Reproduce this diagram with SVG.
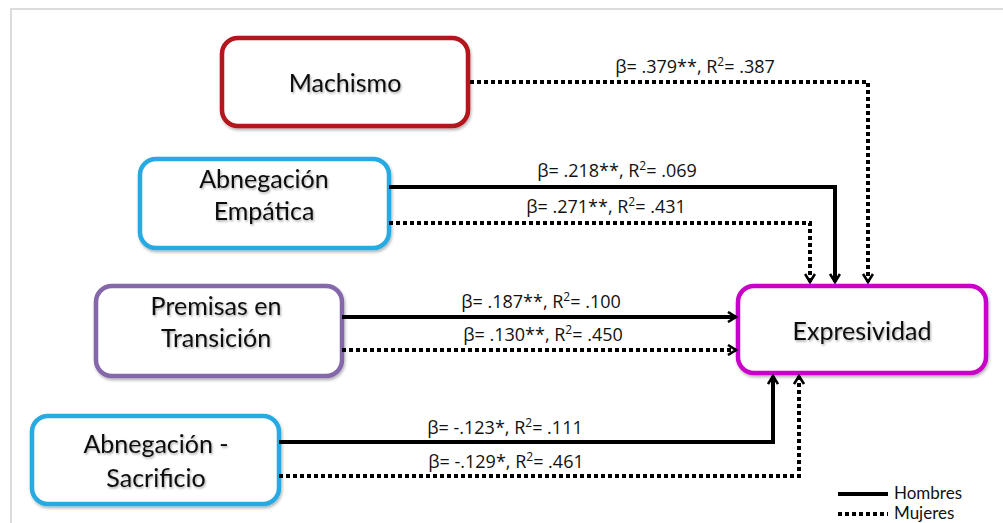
<svg xmlns="http://www.w3.org/2000/svg" width="1003" height="523" viewBox="0 0 1003 523">
<defs>
<style>
.box{fill:#fff;stroke-width:4.5}
.nt{font-family:Lato,"Open Sans",sans-serif;font-size:25px;fill:#111;text-anchor:middle}
.lb{font-family:"Open Sans","Liberation Sans",sans-serif;font-size:18px;fill:#111;text-anchor:middle}
.sol{fill:none;stroke:#000;stroke-width:4}
.dot{fill:none;stroke:#000;stroke-width:4;stroke-dasharray:4 3}
.lg{font-family:Lato,"Open Sans",sans-serif;font-size:17px;fill:#111}
</style>
<filter id="sh" x="-10%" y="-10%" width="120%" height="130%">
<feDropShadow dx="1" dy="2" stdDeviation="1.5" flood-color="#000" flood-opacity="0.3"/>
</filter>
<filter id="tsh" x="-10%" y="-20%" width="120%" height="150%">
<feDropShadow dx="1" dy="1.5" stdDeviation="1" flood-color="#000" flood-opacity="0.35"/>
</filter>
<marker id="ah" viewBox="0 0 12 12" refX="10" refY="6" markerWidth="12" markerHeight="12" markerUnits="userSpaceOnUse" orient="auto">
<path d="M2,1 L10,6 L2,11" fill="none" stroke="#000" stroke-width="2.6"/>
</marker>
</defs>
<rect width="1003" height="523" fill="#fff"/>
<path d="M11,523 V9 H1003" fill="none" stroke="#dcdcdc" stroke-width="2"/>

<g id="machismo">
<rect class="box" x="222" y="38" width="246" height="88" rx="16" stroke="#b3121b" filter="url(#sh)"/>
<text class="nt" x="345" y="92" filter="url(#tsh)">Machismo</text>
</g>
<g id="abnegacion-empatica">
<rect class="box" x="140" y="159" width="249" height="89" rx="16" stroke="#27aae1" filter="url(#sh)"/>
<text class="nt" x="264" y="188" filter="url(#tsh)">Abnegación</text>
<text class="nt" x="264" y="220" filter="url(#tsh)">Empática</text>
</g>
<g id="premisas">
<rect class="box" x="96" y="286" width="246" height="90" rx="16" stroke="#8567a9" filter="url(#sh)"/>
<text class="nt" x="216" y="315" filter="url(#tsh)">Premisas en</text>
<text class="nt" x="216" y="347" filter="url(#tsh)">Transición</text>
</g>
<g id="abnegacion-sacrificio">
<rect class="box" x="32" y="416" width="247" height="88" rx="16" stroke="#27aae1" filter="url(#sh)"/>
<text class="nt" x="156" y="453" filter="url(#tsh)">Abnegación -</text>
<text class="nt" x="156" y="487" filter="url(#tsh)">Sacrificio</text>
</g>
<g id="expresividad">
<rect class="box" x="738" y="286" width="248" height="87" rx="16" stroke="#c800c8" filter="url(#sh)"/>
<text class="nt" x="862" y="340" filter="url(#tsh)">Expresividad</text>
</g>

<g id="connectors">
<path class="dot" d="M470,82 H868 V282" marker-end="url(#ah)"/>
<path class="sol" d="M389,187 H835 V282" marker-end="url(#ah)"/>
<path class="dot" d="M389,223 H810 V282" marker-end="url(#ah)"/>
<path class="sol" d="M342,317 H736" marker-end="url(#ah)"/>
<path class="dot" d="M342,350 H736" marker-end="url(#ah)"/>
<path class="sol" d="M279,442 H773 V376" marker-end="url(#ah)"/>
<path class="dot" d="M279,476 H799 V376" marker-end="url(#ah)"/>
</g>

<g id="labels">
<text class="lb" x="695" y="73">β= .379**, R<tspan dy="-7" font-size="12">2</tspan><tspan dy="7">= .387</tspan></text>
<text class="lb" x="617" y="177">β= .218**, R<tspan dy="-7" font-size="12">2</tspan><tspan dy="7">= .069</tspan></text>
<text class="lb" x="606" y="213">β= .271**, R<tspan dy="-7" font-size="12">2</tspan><tspan dy="7">= .431</tspan></text>
<text class="lb" x="541" y="308">β= .187**, R<tspan dy="-7" font-size="12">2</tspan><tspan dy="7">= .100</tspan></text>
<text class="lb" x="543" y="341">β= .130**, R<tspan dy="-7" font-size="12">2</tspan><tspan dy="7">= .450</tspan></text>
<text class="lb" x="505" y="434">β= -.123*, R<tspan dy="-7" font-size="12">2</tspan><tspan dy="7">= .111</tspan></text>
<text class="lb" x="506" y="468">β= -.129*, R<tspan dy="-7" font-size="12">2</tspan><tspan dy="7">= .461</tspan></text>
</g>

<g id="legend">
<line class="sol" x1="838" y1="494" x2="888" y2="494"/>
<text class="lg" x="894" y="499">Hombres</text>
<line class="dot" x1="838" y1="514" x2="888" y2="514"/>
<text class="lg" x="894" y="519">Mujeres</text>
</g>
</svg>
